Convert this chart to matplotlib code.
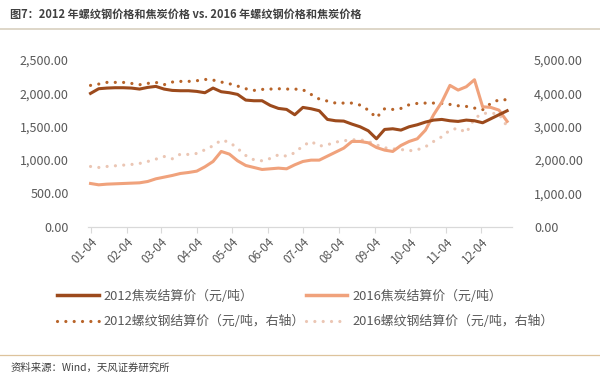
import numpy as np
import pandas as pd
import matplotlib
matplotlib.use("Agg")
import matplotlib.pyplot as plt
from matplotlib.lines import Line2D

plt.rcParams['font.family'] = ['Noto Sans CJK SC', 'DejaVu Sans']
plt.rcParams['axes.unicode_minus'] = False

# 数据：每周一个点，从 01-04 开始
dates = pd.date_range("2016-01-04", periods=52, freq="7D")
coke_2012 = [2000, 2070, 2080, 2085, 2085, 2080, 2065, 2090, 2105, 2065,
             2045, 2040, 2040, 2030, 2010, 2080, 2025, 2010, 1985, 1900,
             1890, 1890, 1820, 1775, 1760, 1680, 1790, 1770, 1740, 1610,
             1590, 1585, 1540, 1500, 1440, 1320, 1460, 1470, 1450, 1500,
             1530, 1570, 1600, 1610, 1590, 1580, 1600, 1590, 1560, 1620,
             1680, 1740]
coke_2016 = [650, 630, 640, 645, 650, 655, 660, 680, 720, 745,
             770, 800, 815, 835, 900, 980, 1130, 1090, 990, 920,
             890, 860, 870, 880, 870, 930, 980, 1000, 1000, 1060,
             1120, 1180, 1280, 1280, 1260, 1190, 1150, 1130, 1220, 1280,
             1320, 1450, 1680, 1870, 2120, 2050, 2100, 2205, 1800, 1790,
             1750, 1580]
rebar_2012 = [4240, 4280, 4330, 4330, 4330, 4300, 4260, 4300, 4330, 4260,
              4340, 4360, 4360, 4380, 4420, 4400, 4340, 4290, 4220, 4140,
              4090, 4120, 4130, 4140, 4130, 4130, 4110, 3970, 3830, 3770,
              3710, 3710, 3710, 3650, 3500, 3270, 3540, 3520, 3550, 3660,
              3700, 3710, 3710, 3700, 3670, 3630, 3610, 3560, 3510, 3700,
              3810, 3810]
rebar_2016 = [1810, 1780, 1810, 1830, 1850, 1870, 1900, 1960, 2030, 2110,
              2040, 2180, 2170, 2200, 2310, 2430, 2600, 2540, 2350, 2140,
              2010, 1980, 2050, 2160, 2120, 2220, 2430, 2560, 2420, 2460,
              2540, 2580, 2610, 2610, 2560, 2460, 2370, 2340, 2320, 2280,
              2310, 2400, 2560, 2700, 2900, 2960, 2820, 3250, 3400, 3410,
              3380, 3010]
tick_labels = ["01-04", "02-04", "03-04", "04-04", "05-04", "06-04",
               "07-04", "08-04", "09-04", "10-04", "11-04", "12-04"]

labels = ["2012焦炭结算价（元/吨）", "2016焦炭结算价（元/吨）",
          "2012螺纹钢结算价（元/吨，右轴）", "2016螺纹钢结算价（元/吨，右轴）"]

c_coke12 = "#9c4a1c"
c_coke16 = "#f0a27c"
c_rebar12 = "#b8642a"
c_rebar16 = "#ebc6b4"
txt = "#595959"

day0 = dates[0]
x = np.array([(d - day0).days for d in dates])
tick_x = [(pd.Timestamp(2016, m, 4) - day0).days for m in range(1, 13)]

fig = plt.figure(figsize=(6, 3.8), dpi=100)
ax = fig.add_axes([0.147, 0.403, 0.706, 0.439])
ax2 = ax.twinx()

dot = (0, (0.01, 2.6))
ax2.plot(x, rebar_2016, color=c_rebar16, lw=2.3, linestyle=dot, dash_capstyle="round")
ax2.plot(x, rebar_2012, color=c_rebar12, lw=2.3, linestyle=dot, dash_capstyle="round")
ax.plot(x, coke_2016, color=c_coke16, lw=2.2)
ax.plot(x, coke_2012, color=c_coke12, lw=2.2)
ax.set_zorder(ax2.get_zorder() + 1)
ax.patch.set_visible(False)

ax.set_xlim(-2, 361)
ax.set_ylim(0, 2500)
ax2.set_ylim(0, 5000)
ax.set_yticks(np.arange(0, 2501, 500))
ax2.set_yticks(np.arange(0, 5001, 1000))
ax.set_yticklabels([f"{v:,.2f}" for v in np.arange(0, 2501, 500)])
ax2.set_yticklabels([f"{v:,.2f}" for v in np.arange(0, 5001, 1000)])
ax.set_xticks(tick_x)
ax.set_xticklabels(tick_labels, rotation=45, ha="right", rotation_mode="anchor")

for a in (ax, ax2):
    for s in ("top", "left", "right"):
        a.spines[s].set_visible(False)
    a.spines["bottom"].set_color("#d9d9d9")
    a.tick_params(axis="y", length=0, labelsize=9, labelcolor=txt, pad=14)
ax.tick_params(axis="x", length=4, color="#d9d9d9", labelsize=8.5, labelcolor=txt, pad=2)
ax2.tick_params(axis="y", pad=16)

h_coke12 = Line2D([], [], color=c_coke12, lw=2.5)
h_coke16 = Line2D([], [], color=c_coke16, lw=2.5)
h_rebar12 = Line2D([], [], color=c_rebar12, lw=2.3, linestyle=dot, dash_capstyle="round")
h_rebar16 = Line2D([], [], color=c_rebar16, lw=2.3, linestyle=dot, dash_capstyle="round")
# ncol=2 按列填充，所以顺序为 左列上、左列下、右列上、右列下
fig.legend([h_coke12, h_rebar12, h_coke16, h_rebar16],
           [labels[0], labels[2], labels[1], labels[3]],
           ncol=2, loc="upper left", bbox_to_anchor=(0.076, 0.268),
           frameon=False, fontsize=9.3, labelcolor=txt, handlelength=3.2,
           handletextpad=0.4, columnspacing=0.05, labelspacing=0.95)

fig.text(0.017, 0.962, "图7：2012 年螺纹钢价格和焦炭价格 vs. 2016 年螺纹钢价格和焦炭价格",
         fontsize=8, fontweight="bold", color="#404040", va="center")
fig.add_artist(Line2D([0, 1], [0.924, 0.924], color="#d8d0bf", lw=1.2))
fig.add_artist(Line2D([0, 1], [0.066, 0.066], color="#ddc39c", lw=0.9))
fig.text(0.017, 0.032, "资料来源：Wind，天风证券研究所", fontsize=7.5, color="#404040", va="center")

fig.savefig("out.png", dpi=100)
